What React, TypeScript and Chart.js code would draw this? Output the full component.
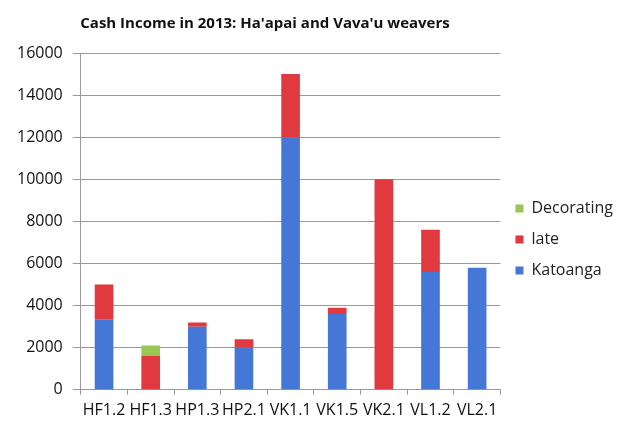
import React, { useEffect, useRef } from "react";
import { Chart, registerables } from "chart.js";

Chart.register(...registerables);

const categories = ["HF1.2", "HF1.3", "HP1.3", "HP2.1", "VK1.1", "VK1.5", "VK2.1", "VL1.2", "VL2.1"];
const katoanga = [3350, 0, 3000, 2000, 12000, 3600, 0, 5600, 5800];
const late = [1650, 1600, 200, 400, 3000, 300, 10000, 2000, 0];
const decorating = [0, 500, 0, 0, 0, 0, 0, 0, 0];
const yTicks = [0, 2000, 4000, 6000, 8000, 10000, 12000, 14000, 16000];
const title = "Cash Income in 2013: Ha'apai and Vava'u weavers";

const FONT = "'Open Sans', 'Liberation Sans', sans-serif";

export default function App() {
  const ref = useRef<HTMLCanvasElement>(null);
  useEffect(() => {
    document.body.style.margin = "0";
    const chart = new Chart(ref.current!, {
      type: "bar",
      data: {
        labels: categories,
        datasets: [
          { label: "Katoanga", data: katoanga, backgroundColor: "#4577d6", barPercentage: 0.4, categoryPercentage: 1 },
          { label: "late", data: late, backgroundColor: "#e0393f", barPercentage: 0.4, categoryPercentage: 1 },
          { label: "Decorating", data: decorating, backgroundColor: "#9ac653", barPercentage: 0.4, categoryPercentage: 1 },
        ],
      },
      options: {
        animation: false,
        responsive: false,
        maintainAspectRatio: false,
        layout: { padding: { left: 7, right: 0, top: 53, bottom: 5 } },
        plugins: {
          title: { display: false },
          legend: {
            position: "right",
            reverse: true,
            labels: {
              boxWidth: 8,
              boxHeight: 8,
              padding: 15,
              color: "#222",
              font: { family: FONT, size: 16 },
            },
          },
          tooltip: { enabled: false },
        },
        scales: {
          x: {
            stacked: true,
            grid: { display: true, drawOnChartArea: false, tickLength: 5, color: "#999" },
            border: { color: "#999" },
            ticks: { color: "#111", font: { family: FONT, size: 16 }, maxRotation: 0, autoSkip: false, padding: 6 },
          },
          y: {
            stacked: true,
            min: 0,
            max: 16000,
            afterBuildTicks: (axis: any) => {
              axis.ticks = yTicks.map((v) => ({ value: v }));
            },
            grid: { color: "#999", tickLength: 8 },
            border: { color: "#999" },
            ticks: {
              color: "#111",
              font: { family: FONT, size: 16 },
              padding: 10,
              callback: (v: any) => String(v),
            },
          },
        },
      },
    });
    return () => chart.destroy();
  }, []);
  return (
    <div style={{ position: "relative", width: 623, height: 431 }}>
      <div
        style={{
          position: "absolute",
          left: 265 - 250,
          width: 500,
          top: 11,
          textAlign: "center",
          fontFamily: FONT,
          fontWeight: "bold",
          fontSize: 15,
          lineHeight: "22px",
          color: "#111",
        }}
      >
        {title}
      </div>
      <canvas ref={ref} width={623} height={431} style={{ display: "block" }} />
    </div>
  );
}
